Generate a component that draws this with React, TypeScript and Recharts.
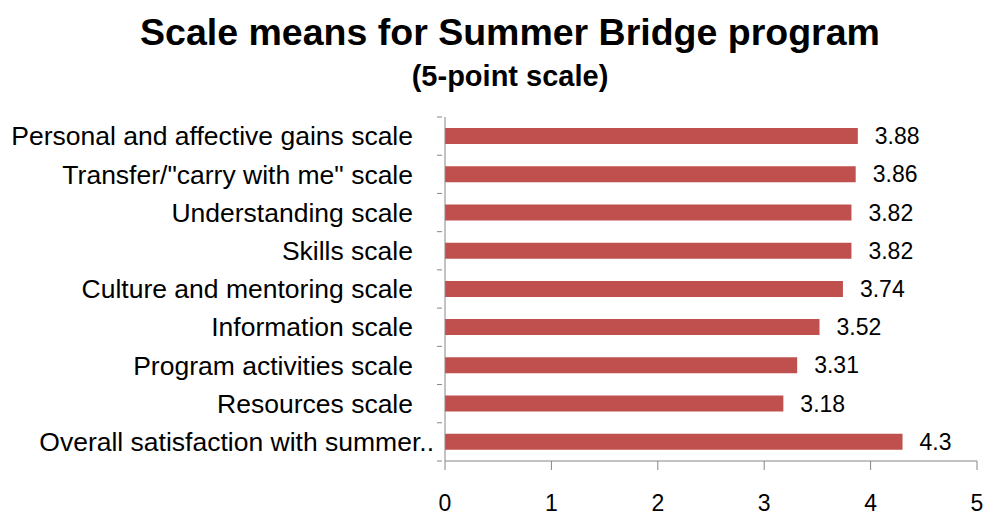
import React from 'react';
import { BarChart, Bar, XAxis, YAxis, LabelList } from 'recharts';

const categories = [
  'Personal and affective gains scale',
  'Transfer/"carry with me" scale',
  'Understanding scale',
  'Skills scale',
  'Culture and mentoring scale',
  'Information scale',
  'Program activities scale',
  'Resources scale',
  'Overall satisfaction with summer..',
];
const means = [3.88, 3.86, 3.82, 3.82, 3.74, 3.52, 3.31, 3.18, 4.3];
const xTicks = [0, 1, 2, 3, 4, 5];

const data = categories.map((name, i) => ({ name, value: means[i] }));

const AXIS = '#868686';
const BAND = (461 - 117) / categories.length;
const NUM_FONT = 'Liberation Sans, Arial, sans-serif';

const CategoryTick = (props: any) => {
  const { x, y, payload, index } = props;
  const axisX = x + 5;
  const last = index === categories.length - 1;
  // the truncated last label sits right against the axis, like Excel draws it
  const textX = last ? axisX - 8 : axisX - 29;
  return (
    <g>
      <line x1={axisX - 5} x2={axisX} y1={y - BAND / 2} y2={y - BAND / 2} stroke={AXIS} />
      {last && (
        <line x1={axisX - 5} x2={axisX} y1={y + BAND / 2} y2={y + BAND / 2} stroke={AXIS} />
      )}
      <text x={textX} y={y} dy="0.35em" textAnchor="end" fill="#000"
        style={{ fontFamily: 'Liberation Sans, Arial, sans-serif', fontSize: 26.5 }}>
        {payload.value}
      </text>
    </g>
  );
};

const App = () => {
  return (
    <div style={{ position: 'relative', width: 987, height: 517, background: '#fff' }}>
      <style>{'body{margin:0;}'}</style>
      <div style={{ position: 'absolute', left: 0, width: 1020, top: 9, textAlign: 'center',
        fontFamily: 'Liberation Sans, Arial, sans-serif', fontWeight: 'bold', fontSize: 37.5, lineHeight: '46px' }}>
        Scale means for Summer Bridge program
      </div>
      <div style={{ position: 'absolute', left: 0, width: 1020, top: 58, textAlign: 'center',
        fontFamily: 'Liberation Sans, Arial, sans-serif', fontWeight: 'bold', fontSize: 29, lineHeight: '36px' }}>
        (5-point scale)
      </div>
      <BarChart
        width={987}
        height={517}
        data={data}
        layout="vertical"
        margin={{ top: 117, right: 10, bottom: 0, left: 0 }}
        barSize={16}
        style={{ position: 'absolute', left: 0, top: 0 }}
      >
        <XAxis
          type="number"
          domain={[0, 5]}
          ticks={xTicks}
          height={56}
          stroke={AXIS}
          tickSize={9}
          tickMargin={25}
          tick={{ fill: '#000', fontSize: 23, fontFamily: NUM_FONT }}
        />
        <YAxis
          type="category"
          dataKey="name"
          width={445}
          stroke={AXIS}
          tickLine={false}
          interval={0}
          tick={<CategoryTick />}
        />
        <Bar dataKey="value" fill="#C0504D" isAnimationActive={false}>
          <LabelList dataKey="value" position="right" offset={17} fill="#000"
            style={{ fontSize: 23, fontFamily: NUM_FONT }} />
        </Bar>
      </BarChart>
    </div>
  );
};

export default App;
